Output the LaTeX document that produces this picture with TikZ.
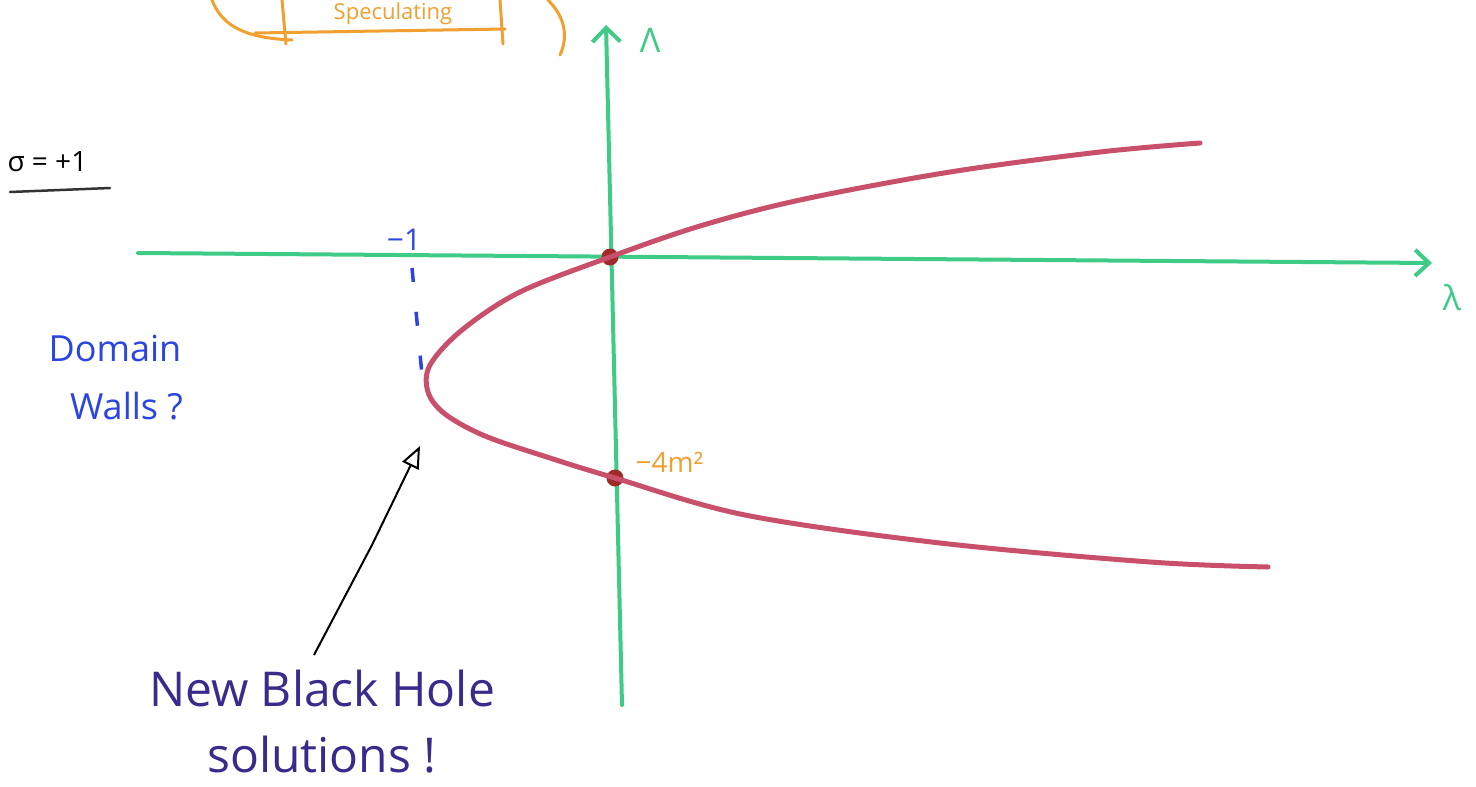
\documentclass[tikz,border=0pt]{standalone}
\usepackage{fontspec}
\setmainfont{Open Sans}
\usetikzlibrary{arrows.meta}
\definecolor{axisgreen}{HTML}{3DCB86}
\definecolor{curvered}{HTML}{C8506A}
\definecolor{dotred}{HTML}{A02A2A}
\definecolor{penblue}{HTML}{2B45E0}
\definecolor{penorange}{HTML}{F0A030}
\definecolor{penpurple}{HTML}{3A2A8C}
\tikzset{
  axis/.style={draw=axisgreen, line width=4pt, line cap=round},
  curve/.style={draw=curvered, line width=5pt, line cap=round},
  dot/.style={circle, fill=dotred, minimum size=17pt, inner sep=0pt},
  orangepen/.style={draw=penorange, line width=3pt, line cap=round},
  bluelabel/.style={text=penblue, font=\fontsize{36}{58}\selectfont, align=left},
  purplelabel/.style={text=penpurple, font=\fontsize{48}{66}\selectfont, align=center},
}
\begin{document}
\begin{tikzpicture}[x=1pt,y=-1pt]
\useasboundingbox (0,0) rectangle (1476,787);
\clip (0,0) rectangle (1476,787);
\fill[white] (0,0) rectangle (1476,787);

% orange box at top
\node[text=penorange, font=\fontsize{22}{26}\selectfont] (spec) at (393,14) {Speculating};
\draw[orangepen] (212,0) .. controls (222,26) and (245,38) .. (292,40);
\draw[orangepen] (255,33) -- (505,29);
\draw[orangepen] (282,0) -- (286,44);
\draw[orangepen] (500,0) -- (503,44);
\draw[orangepen] (548,0) .. controls (566,18) and (568,38) .. (560,55);

% axes
\coordinate (xs) at (138,253);
\coordinate (xe) at (1432,263);
\coordinate (ys) at (622,705);
\coordinate (ye) at (606,25);
\draw[axis, -{Straight Barb[length=14pt,width=26pt]}] (xs) -- (xe);
\draw[axis, -{Straight Barb[length=14pt,width=28pt]}] (ys) -- (ye);
\node[text=axisgreen, font=\fontsize{34}{40}\selectfont] (Lam) at (650,40) {Λ};
\node[text=axisgreen, font=\fontsize{34}{40}\selectfont] (lam) at (1452,298) {λ};

% sigma label
\node[font=\fontsize{28}{32}\selectfont, anchor=west] (sig) at (4,162) {σ = +1};
\draw[black!80, line width=2.5pt, line cap=round] (10,192) -- (110,188);

% -1 tick and dashed line
\node[bluelabel, font=\fontsize{30}{36}\selectfont] (m1) at (404,240) {−1};
\draw[penblue, line width=3.5pt, dash pattern=on 14pt off 30pt] (412,268) -- (422,375);

% parabola
\node[dot] (p0) at (610,257) {};
\node[dot] (p1) at (615,478) {};
\draw[curve] plot[smooth, tension=0.55] coordinates {
  (1200,143) (1100,152) (950,172) (800,200) (700,226) (610,257) (520,292) (462,330)
  (430,365) (428,392) (445,414) (485,436) (550,458) (615,478) (745,515)
  (940,543) (1150,562) (1268,567)};

% orange -4m^2 label
\node[text=penorange, font=\fontsize{28}{32}\selectfont, anchor=west] (m4) at (632,462) {−4m²};

% domain walls
\node[bluelabel, align=left, anchor=north west] (dw) at (45,332) {Domain\\\hspace*{0.6em}Walls ?};

% new black hole solutions
\node[purplelabel] (bh) at (322,722) {New Black Hole\\ solutions !};
\coordinate (tip) at (420,446);
\draw[black, line width=2pt, -{Triangle[open, length=22pt, width=18pt, line width=2pt]}] (314,655) -- (372,545) -- (tip);
\end{tikzpicture}
\end{document}
